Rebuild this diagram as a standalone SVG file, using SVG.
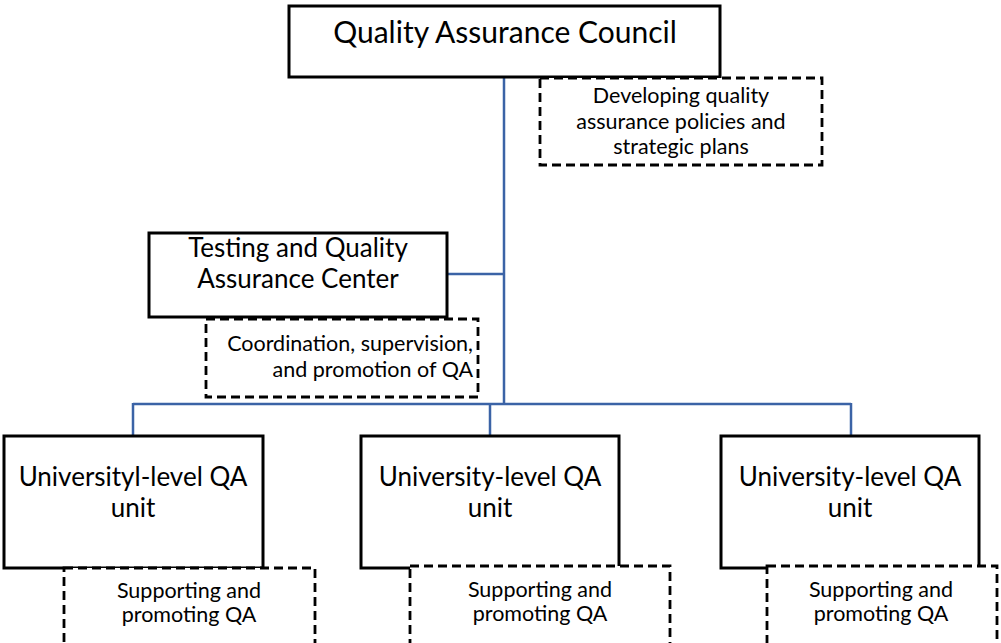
<svg xmlns="http://www.w3.org/2000/svg" width="1001" height="643" viewBox="0 0 1001 643">
<style>
.box{fill:#fff;stroke:#000;stroke-width:3}
.dash{fill:#fff;stroke:#000;stroke-width:2.8;stroke-dasharray:9,5}
.conn{fill:none;stroke:#3B63A6;stroke-width:2.5}
text{font-family:Lato,"Liberation Sans",sans-serif;fill:#000}
.big{font-size:30px}
.mid{font-size:26px}
.sm{font-size:21.5px}
</style>
<rect width="1001" height="643" fill="#fff"/>
<g id="connectors">
<path class="conn" d="M504 77V404M447 274H504M133 404H851M133 403V436M490 403V436M851 403V436"/>
</g>
<g id="council">
<rect class="box" x="289" y="6" width="431" height="71"/>
<text class="big" x="505" y="43" text-anchor="middle">Quality Assurance Council</text>
</g>
<g id="council-role">
<rect class="dash" x="540" y="78" width="282" height="87"/>
<text class="sm" x="681" y="103" text-anchor="middle">Developing quality</text>
<text class="sm" x="681" y="129" text-anchor="middle">assurance policies and</text>
<text class="sm" x="681" y="154" text-anchor="middle">strategic plans</text>
</g>
<g id="center">
<rect class="box" x="149" y="233" width="298" height="84"/>
<text class="mid" x="298" y="257" text-anchor="middle">Testing and Quality</text>
<text class="mid" x="298" y="288" text-anchor="middle">Assurance Center</text>
</g>
<g id="center-role">
<rect class="dash" x="206" y="319" width="272" height="78"/>
<text class="sm" x="473" y="351" text-anchor="end">Coordination, supervision,</text>
<text class="sm" x="473" y="377" text-anchor="end">and promotion of QA</text>
</g>
<g id="unit1">
<rect class="box" x="4" y="436" width="259" height="132"/>
<text class="mid" x="133" y="486" text-anchor="middle">Universityl-level QA</text>
<text class="mid" x="133" y="517" text-anchor="middle">unit</text>
</g>
<g id="unit1-role">
<rect class="dash" x="64" y="568" width="251" height="80"/>
<text class="sm" x="189" y="598" text-anchor="middle">Supporting and</text>
<text class="sm" x="189" y="622" text-anchor="middle">promoting QA</text>
</g>
<g id="unit2">
<rect class="box" x="361" y="436" width="258" height="132"/>
<text class="mid" x="490" y="486" text-anchor="middle">University-level QA</text>
<text class="mid" x="490" y="517" text-anchor="middle">unit</text>
</g>
<g id="unit2-role">
<rect class="dash" x="410" y="566" width="260" height="82"/>
<text class="sm" x="540" y="597" text-anchor="middle">Supporting and</text>
<text class="sm" x="540" y="621" text-anchor="middle">promoting QA</text>
</g>
<g id="unit3">
<rect class="box" x="721" y="436" width="258" height="132"/>
<text class="mid" x="850" y="486" text-anchor="middle">University-level QA</text>
<text class="mid" x="850" y="517" text-anchor="middle">unit</text>
</g>
<g id="unit3-role">
<rect class="dash" x="767" y="566" width="230" height="82"/>
<text class="sm" x="881" y="597" text-anchor="middle">Supporting and</text>
<text class="sm" x="881" y="621" text-anchor="middle">promoting QA</text>
</g>
</svg>
